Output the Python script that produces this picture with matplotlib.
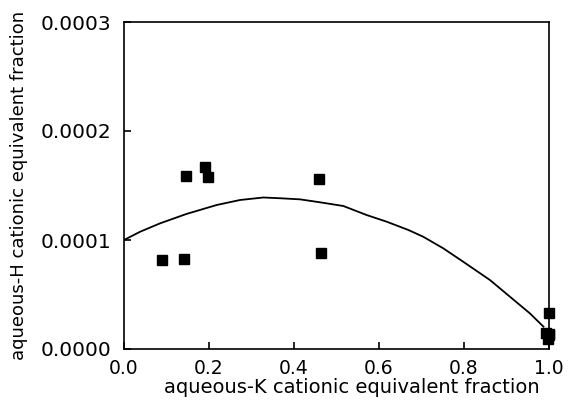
import matplotlib
matplotlib.use("Agg")
import matplotlib.pyplot as plt
from matplotlib.ticker import FormatStrFormatter

# Measured data points (aqueous-K fraction, aqueous-H fraction)
k_frac = [0.089, 0.142, 0.146, 0.191, 0.197, 0.459, 0.463,
          1.000, 0.993, 1.000, 0.997, 1.000]
h_frac = [0.0000817, 0.0000829, 0.0001587, 0.0001672, 0.0001575, 0.0001562, 0.0000878,
          0.0000333, 0.0000150, 0.0000125, 0.0000095, 0.0000140]

# Fitted curve
curve_k = [0.000, 0.038, 0.085, 0.147, 0.218, 0.273, 0.328, 0.367, 0.414, 0.461,
           0.516, 0.571, 0.618, 0.669, 0.704, 0.751, 0.798, 0.861, 0.908, 0.955, 0.987]
curve_h = [0.0001000, 0.0001076, 0.0001153, 0.0001239, 0.0001321, 0.0001367, 0.0001390,
           0.0001383, 0.0001373, 0.0001346, 0.0001312, 0.0001229, 0.0001168, 0.0001092,
           0.0001030, 0.0000924, 0.0000801, 0.0000633, 0.0000480, 0.0000327, 0.0000205]

x_ticks = [0.0, 0.2, 0.4, 0.6, 0.8, 1.0]
y_ticks = [0.0, 0.0001, 0.0002, 0.0003]

fig = plt.figure(figsize=(5.68, 4.07), dpi=100)
ax = fig.add_axes([124 / 568, 1 - 349 / 407, (549 - 124) / 568, (349 - 22) / 407])

ax.plot(curve_k, curve_h, color="black", lw=1.3)
ax.plot(k_frac, h_frac, linestyle="none", marker="s", color="black",
        markersize=6.5, clip_on=False, zorder=5)

ax.set_xlim(0, 1.0)
ax.set_ylim(0, 0.0003)
ax.set_xticks(x_ticks)
ax.set_yticks(y_ticks)
ax.xaxis.set_major_formatter(FormatStrFormatter("%.1f"))
ax.yaxis.set_major_formatter(FormatStrFormatter("%.4f"))

for s in ax.spines.values():
    s.set_linewidth(1.2)

ax.tick_params(axis="both", direction="in", length=5, width=1.2,
               top=False, right=False)
ax.tick_params(axis="y", pad=9, labelsize=14.5)
ax.tick_params(axis="x", pad=7, labelsize=13.5)

ax.set_xlabel("aqueous-K cationic equivalent fraction", fontsize=14)
ax.set_ylabel("aqueous-H cationic equivalent fraction", fontsize=13)
ax.xaxis.set_label_coords(0.535, -0.088)
ax.yaxis.set_label_coords(-0.226, 0.50)

fig.savefig("out.png", dpi=100)
